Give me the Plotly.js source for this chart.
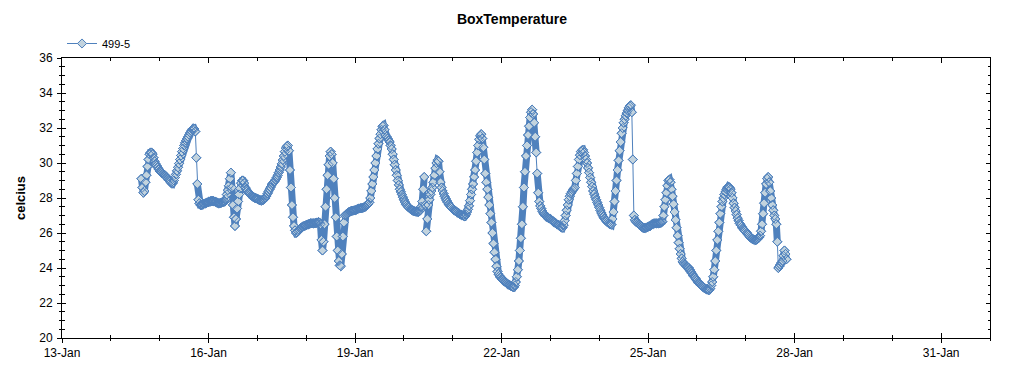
<!DOCTYPE html>
<html>
<head>
<meta charset="utf-8">
<script src="https://cdn.plot.ly/plotly-3.0.1.min.js"></script>
<style>html,body{margin:0;padding:0;background:#fff}#chart{width:1024px;height:375px}</style>
</head>
<body>
<div id="chart"></div>
<script>
// Half-hourly BoxTemperature readings (celcius), series "499-5", January 2014
const seriesName = "499-5";
const monthPrefix = "2014-01-";
const jan14Start = 15; // first reading on 14-Jan at 15:00
const jan14 = [29.1,28.6,28.3,28.4,28.9,29.3,29.8,30.2,30.5,30.6,30.6,30.5,30.3,30.1,29.95,29.85,29.75,29.65];
const jan15 = [29.55,29.5,29.45,29.4,29.35,29.3,29.25,29.18,29.1,29.02,28.95,28.88,28.82,28.86,29.0,29.17,29.35,29.55,29.75,29.97,30.2,30.43,30.65,30.83,31.0,31.15,31.28,31.4,31.5,31.62,31.73,31.83,31.92,31.98,31.95,31.8,30.3,28.8,27.9,27.7,27.6,27.6,27.62,27.65,27.68,27.7,27.72,27.75];
const jan16 = [27.78,27.8,27.82,27.83,27.83,27.82,27.8,27.78,27.75,27.72,27.7,27.7,27.72,27.74,27.76,27.78,27.8,27.95,28.2,28.45,28.7,29.1,29.45,28.6,27.6,26.9,26.4,26.8,27.4,27.8,28.2,28.55,28.85,29.0,29.0,28.85,28.6,28.5,28.4,28.32,28.25,28.2,28.15,28.1,28.05,28.02,28.0,27.98];
const jan17 = [27.95,27.92,27.88,27.86,27.85,27.87,27.9,27.95,28.0,28.12,28.25,28.38,28.5,28.62,28.75,28.83,28.9,28.97,29.05,29.17,29.3,29.45,29.6,29.77,29.95,30.17,30.4,30.65,30.85,30.95,31.0,30.7,29.6,28.6,27.6,26.9,26.4,26.15,26.0,26.03,26.1,26.18,26.25,26.3,26.35,26.38,26.4,26.42];
const jan18 = [26.45,26.48,26.5,26.52,26.55,26.55,26.55,26.55,26.55,26.57,26.58,26.6,26.62,26.6,26.5,25.6,25.0,25.5,26.5,27.5,28.5,29.3,29.9,30.4,30.65,30.5,30.0,29.1,28.0,26.9,25.8,25.0,24.4,24.15,24.1,24.8,25.8,26.6,27.0,27.05,27.1,27.15,27.2,27.22,27.25,27.27,27.28,27.29];
const jan19 = [27.3,27.32,27.35,27.38,27.4,27.41,27.42,27.43,27.45,27.47,27.5,27.55,27.6,27.67,27.75,28.0,28.4,28.8,29.2,29.6,30.0,30.4,30.8,31.1,31.4,31.65,31.9,32.1,32.15,31.9,31.6,31.5,31.4,31.3,31.2,31.0,30.8,30.5,30.2,29.9,29.6,29.3,29.0,28.75,28.5,28.35,28.2,28.05];
const jan20 = [27.9,27.77,27.65,27.57,27.5,27.45,27.4,27.35,27.3,27.27,27.25,27.23,27.22,27.21,27.2,27.23,27.3,27.5,27.8,28.5,29.2,27.6,26.1,26.8,27.6,27.9,28.2,28.4,28.6,28.9,29.3,29.7,30.0,30.15,30.1,29.5,28.9,28.6,28.4,28.25,28.1,27.97,27.85,27.75,27.65,27.57,27.5,27.44];
const jan21 = [27.38,27.33,27.28,27.24,27.2,27.16,27.12,27.08,27.05,27.02,27.0,26.97,26.95,27.05,27.2,27.35,27.55,27.85,28.2,28.5,28.8,29.2,29.6,30.1,30.6,31.0,31.35,31.55,31.65,31.4,30.9,30.2,29.4,28.9,28.5,28.05,27.6,27.1,26.6,26.0,25.4,24.9,24.5,24.1,23.8,23.65,23.55,23.46];
const jan22 = [23.38,23.33,23.28,23.23,23.18,23.13,23.08,23.05,23.02,22.98,22.95,22.92,22.9,23.0,23.2,23.5,23.9,24.4,25.0,25.7,26.5,27.5,28.6,29.5,30.4,31.0,31.6,32.1,32.6,32.9,33.05,32.8,32.3,31.5,30.6,29.4,28.3,27.8,27.55,27.4,27.25,27.15,27.05,26.99,26.93,26.9,26.86,26.83];
const jan23 = [26.8,26.75,26.7,26.65,26.6,26.56,26.52,26.48,26.45,26.4,26.35,26.32,26.3,26.45,26.7,27.0,27.3,27.6,27.9,28.1,28.25,28.35,28.45,28.52,28.6,29.0,29.4,29.8,30.2,30.45,30.65,30.72,30.75,30.6,30.4,30.2,30.0,29.72,29.45,29.17,28.9,28.65,28.4,28.22,28.05,27.9,27.75,27.6];
const jan24 = [27.45,27.3,27.15,27.03,26.92,26.83,26.75,26.68,26.62,26.57,26.52,26.5,26.48,26.8,27.2,27.8,28.4,29.0,29.6,30.15,30.7,31.2,31.7,32.0,32.3,32.5,32.7,32.85,33.0,33.15,33.25,33.3,32.9,30.2,27.0,26.75,26.65,26.6,26.55,26.5,26.45,26.4,26.35,26.3,26.28,26.28,26.3,26.32];
const jan25 = [26.35,26.38,26.4,26.45,26.5,26.52,26.55,26.55,26.55,26.55,26.55,26.56,26.58,26.6,26.65,27.0,27.5,27.9,28.3,28.7,29.0,29.05,28.9,28.5,28.1,27.65,27.2,26.75,26.3,25.85,25.45,25.1,24.8,24.55,24.35,24.27,24.2,24.15,24.1,24.05,24.0,23.9,23.8,23.7,23.6,23.52,23.45,23.37];
const jan26 = [23.28,23.2,23.13,23.07,23.02,22.97,22.92,22.87,22.83,22.8,22.77,22.75,22.74,22.82,23.0,23.2,23.5,23.9,24.4,25.0,25.6,26.1,26.6,27.1,27.5,27.8,28.0,28.2,28.35,28.5,28.6,28.65,28.6,28.5,28.3,28.0,27.7,27.45,27.25,27.05,26.85,26.7,26.55,26.45,26.35,26.27,26.2,26.14];
const jan27 = [26.08,26.0,25.93,25.85,25.78,25.73,25.68,25.65,25.62,25.6,25.6,25.63,25.68,25.75,25.85,26.1,26.5,27.1,27.7,28.3,28.8,29.1,29.2,28.9,28.4,28.0,27.6,27.3,27.0,26.8,26.5,25.5,24.0,24.1,24.2,24.3,24.4,24.7,25.0,24.8,24.5];

const xRange = ["2014-01-13", "2014-02-01"];
const yRange = [20, 36];

const dayList = [
  [14, jan14, jan14Start], [15, jan15, 0], [16, jan16, 0], [17, jan17, 0],
  [18, jan18, 0], [19, jan19, 0], [20, jan20, 0], [21, jan21, 0],
  [22, jan22, 0], [23, jan23, 0], [24, jan24, 0], [25, jan25, 0],
  [26, jan26, 0], [27, jan27, 0]
];
const times = [], temps = [];
dayList.forEach(([day, vals, h0]) => {
  vals.forEach((v, i) => {
    const hh = String(h0 + Math.floor(i / 2)).padStart(2, "0");
    const mm = i % 2 ? "30" : "00";
    times.push(monthPrefix + String(day).padStart(2, "0") + " " + hh + ":" + mm);
    temps.push(v);
  });
});

// Wide band under the markers; it is broken at abrupt jumps, where the
// original shows separate diamonds joined by the thin line only.
const JUMP = 1.2;
const bandX = [], bandY = [];
temps.forEach((v, i) => {
  if (i > 0 && Math.abs(v - temps[i - 1]) > JUMP) { bandX.push(times[i]); bandY.push(null); }
  bandX.push(times[i]); bandY.push(v);
});

const FONT = "Liberation Sans, Arial, sans-serif";
const DAY = 86400000;
const BLUE = "#4f81bd";

const traces = [
  {
    x: bandX, y: bandY, type: "scatter", mode: "lines", showlegend: false, hoverinfo: "skip",
    connectgaps: false, line: {color: BLUE, width: 7}
  },
  {
    x: times, y: temps, type: "scatter", mode: "lines+markers", name: seriesName,
    line: {color: BLUE, width: 1},
    marker: {symbol: "diamond", size: 7, color: "#c2d3de", line: {color: BLUE, width: 1}}
  },
  {
    // outlines drawn over all fills, as in the original renderer
    x: times, y: temps, type: "scatter", mode: "markers", showlegend: false, hoverinfo: "skip",
    marker: {symbol: "diamond", size: 7, color: "rgba(0,0,0,0)", line: {color: BLUE, width: 1}}
  },
  {x: [xRange[0]], y: [null], xaxis: "x2", yaxis: "y2", showlegend: false, hoverinfo: "skip", mode: "markers"}
];

const layout = {
  width: 1024, height: 375,
  margin: {l: 62, r: 34, t: 58, b: 37},
  paper_bgcolor: "#fff", plot_bgcolor: "#fff",
  font: {family: FONT, size: 12, color: "#000"},
  title: {text: "<b>BoxTemperature</b>", x: 0.5, xref: "container", xanchor: "center",
          y: 0.949, yref: "container", yanchor: "middle", font: {size: 14, family: FONT, color: "#000"}},
  showlegend: true,
  legend: {x: 0, xanchor: "left", y: 1, yanchor: "bottom", orientation: "h",
           font: {size: 11, family: FONT, color: "#000"}, bgcolor: "rgba(0,0,0,0)", borderwidth: 0},
  xaxis: {
    type: "date", range: xRange, tick0: xRange[0], dtick: 3 * DAY, tickformat: "%-d-%b",
    showgrid: false, zeroline: false, showline: true, linecolor: "#000", linewidth: 1,
    ticks: "inside", ticklen: 5, tickcolor: "#000", mirror: "allticks",
    tickfont: {size: 12, family: FONT, color: "#000"}, ticklabelstandoff: 4,
    minor: {dtick: DAY, tick0: xRange[0], ticks: "inside", ticklen: 3, tickcolor: "#000", showgrid: false}
  },
  xaxis2: {
    type: "date", range: xRange, tick0: xRange[0], dtick: 3 * DAY, overlaying: "x", anchor: "y",
    showgrid: false, zeroline: false, showline: false, showticklabels: false,
    ticks: "outside", ticklen: 4, tickcolor: "#000",
    minor: {dtick: DAY, tick0: xRange[0], ticks: "outside", ticklen: 2, tickcolor: "#000", showgrid: false}
  },
  yaxis: {
    range: yRange, dtick: 2, tick0: 20,
    showgrid: false, zeroline: false, showline: true, linecolor: "#000", linewidth: 1,
    ticks: "inside", ticklen: 4, tickcolor: "#000", mirror: "allticks",
    tickfont: {size: 12, family: FONT, color: "#000"}, ticklabelstandoff: 6,
    title: {text: "<b>celcius</b>", font: {size: 13, family: FONT, color: "#000"}, standoff: 10},
    minor: {dtick: 0.5, tick0: 20, ticks: "inside", ticklen: 2.5, tickcolor: "#000", showgrid: false}
  },
  yaxis2: {
    range: yRange, dtick: 2, tick0: 20, overlaying: "y", anchor: "x",
    showgrid: false, zeroline: false, showline: false, showticklabels: false,
    ticks: "outside", ticklen: 4, tickcolor: "#000",
    minor: {dtick: 0.5, tick0: 20, ticks: "outside", ticklen: 2.5, tickcolor: "#000", showgrid: false}
  }
};

Plotly.newPlot("chart", traces, layout, {displayModeBar: false, staticPlot: true});
</script>
</body>
</html>
